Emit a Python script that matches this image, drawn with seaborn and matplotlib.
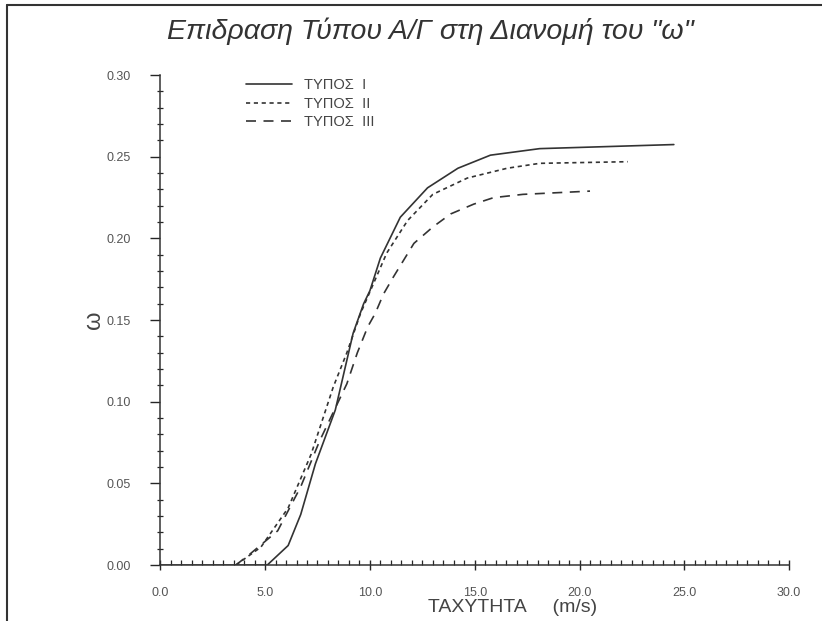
import pandas as pd
import matplotlib
matplotlib.use("Agg")
import matplotlib.pyplot as plt
from matplotlib.ticker import MultipleLocator, FormatStrFormatter
from matplotlib.lines import Line2D
import seaborn as sns

# Type I (solid)
speed_1 = [0.0, 5.1, 6.1, 6.7, 7.4, 8.35, 9.2, 9.7, 10.0, 10.5, 11.45, 12.75, 14.2, 15.75, 18.1, 24.5]
omega_1 = [0.0, 0.0, 0.012, 0.031, 0.062, 0.095, 0.142, 0.160, 0.168, 0.188, 0.213, 0.231, 0.243, 0.251, 0.255, 0.2575]
# Type II (short dashes)
speed_2 = [3.6, 4.8, 6.1, 7.2, 8.25, 8.9, 9.55, 10.8, 11.8, 13.0, 14.65, 16.55, 18.1, 22.3]
omega_2 = [0.0, 0.011, 0.035, 0.068, 0.109, 0.130, 0.154, 0.191, 0.211, 0.227, 0.237, 0.243, 0.246, 0.247]
# Type III (long dashes)
speed_3 = [3.6, 4.3, 5.6, 6.7, 7.6, 8.9, 9.4, 9.9, 10.25, 10.65, 11.1, 12.1, 13.0, 13.85, 14.95, 15.9, 17.3, 20.5]
omega_3 = [0.0, 0.007, 0.021, 0.048, 0.076, 0.111, 0.130, 0.146, 0.154, 0.166, 0.176, 0.197, 0.207, 0.215, 0.221, 0.225, 0.227, 0.229]

labels = ["ΤΥΠΟΣ  Ι", "ΤΥΠΟΣ  ΙΙ", "ΤΥΠΟΣ  ΙΙΙ"]

df = pd.concat([
    pd.DataFrame({"speed": speed_1, "omega": omega_1, "type": labels[0]}),
    pd.DataFrame({"speed": speed_2, "omega": omega_2, "type": labels[1]}),
    pd.DataFrame({"speed": speed_3, "omega": omega_3, "type": labels[2]}),
], ignore_index=True)

sns.set_style("ticks")
plt.rcParams["font.family"] = ["Liberation Sans", "DejaVu Sans"]

fig = plt.figure(figsize=(8.22, 6.21), dpi=100)
ax = fig.add_axes([0.195, 0.090, 0.765, 0.789])

sns.lineplot(data=df, x="speed", y="omega", style="type", sort=False,
             dashes=["", (2.5, 2.2), (6, 4.5)], color="#333333", lw=1.2,
             estimator=None, ax=ax)

ax.set_xlim(0, 30)
ax.set_ylim(0, 0.30)
ax.xaxis.set_major_locator(MultipleLocator(5))
ax.xaxis.set_minor_locator(MultipleLocator(0.5))
ax.yaxis.set_major_locator(MultipleLocator(0.05))
ax.yaxis.set_minor_locator(MultipleLocator(0.01))
ax.xaxis.set_major_formatter(FormatStrFormatter("%.1f"))
ax.yaxis.set_major_formatter(FormatStrFormatter("%.2f"))
ax.tick_params(axis="x", which="major", direction="inout", length=7, width=1,
               labelsize=9, labelcolor="#555555", pad=12)
ax.tick_params(axis="x", which="minor", direction="in", length=3.5, width=0.9)
ax.tick_params(axis="y", which="major", direction="out", length=7, width=1,
               labelsize=9, labelcolor="#555555", pad=14)
ax.tick_params(axis="y", which="minor", direction="inout", length=5, width=0.9)
sns.despine(ax=ax)
for s in ["left", "bottom"]:
    ax.spines[s].set_color("#333333")
    ax.spines[s].set_linewidth(1.1)

ax.set_xlabel("ΤΑΧΥΤΗΤΑ     (m/s)", fontsize=14, color="#444444")
ax.xaxis.set_label_coords(0.56, -0.07)
ax.set_ylabel("ω", fontsize=17, color="#444444")
ax.yaxis.set_label_coords(-0.088, 0.5)

leg = ax.legend(loc="upper left", bbox_to_anchor=(0.115, 1.02), frameon=False,
                fontsize=10.5, handlelength=3.2, labelspacing=0.3, handletextpad=0.8)
for t in leg.get_texts():
    t.set_color("#444444")

fig.text(0.523, 0.950, "Επιδραση Τύπου Α/Γ στη Διανομή του \"ω\"", ha="center", va="center",
         fontsize=20.5, style="italic", color="#333333")

# scanned page border (top and left)
fig.add_artist(Line2D([0.009, 1.0], [0.992, 0.992], color="#333333", lw=1.5, transform=fig.transFigure))
fig.add_artist(Line2D([0.009, 0.009], [0.0, 0.992], color="#333333", lw=1.5, transform=fig.transFigure))

fig.savefig("out.png", dpi=100)
